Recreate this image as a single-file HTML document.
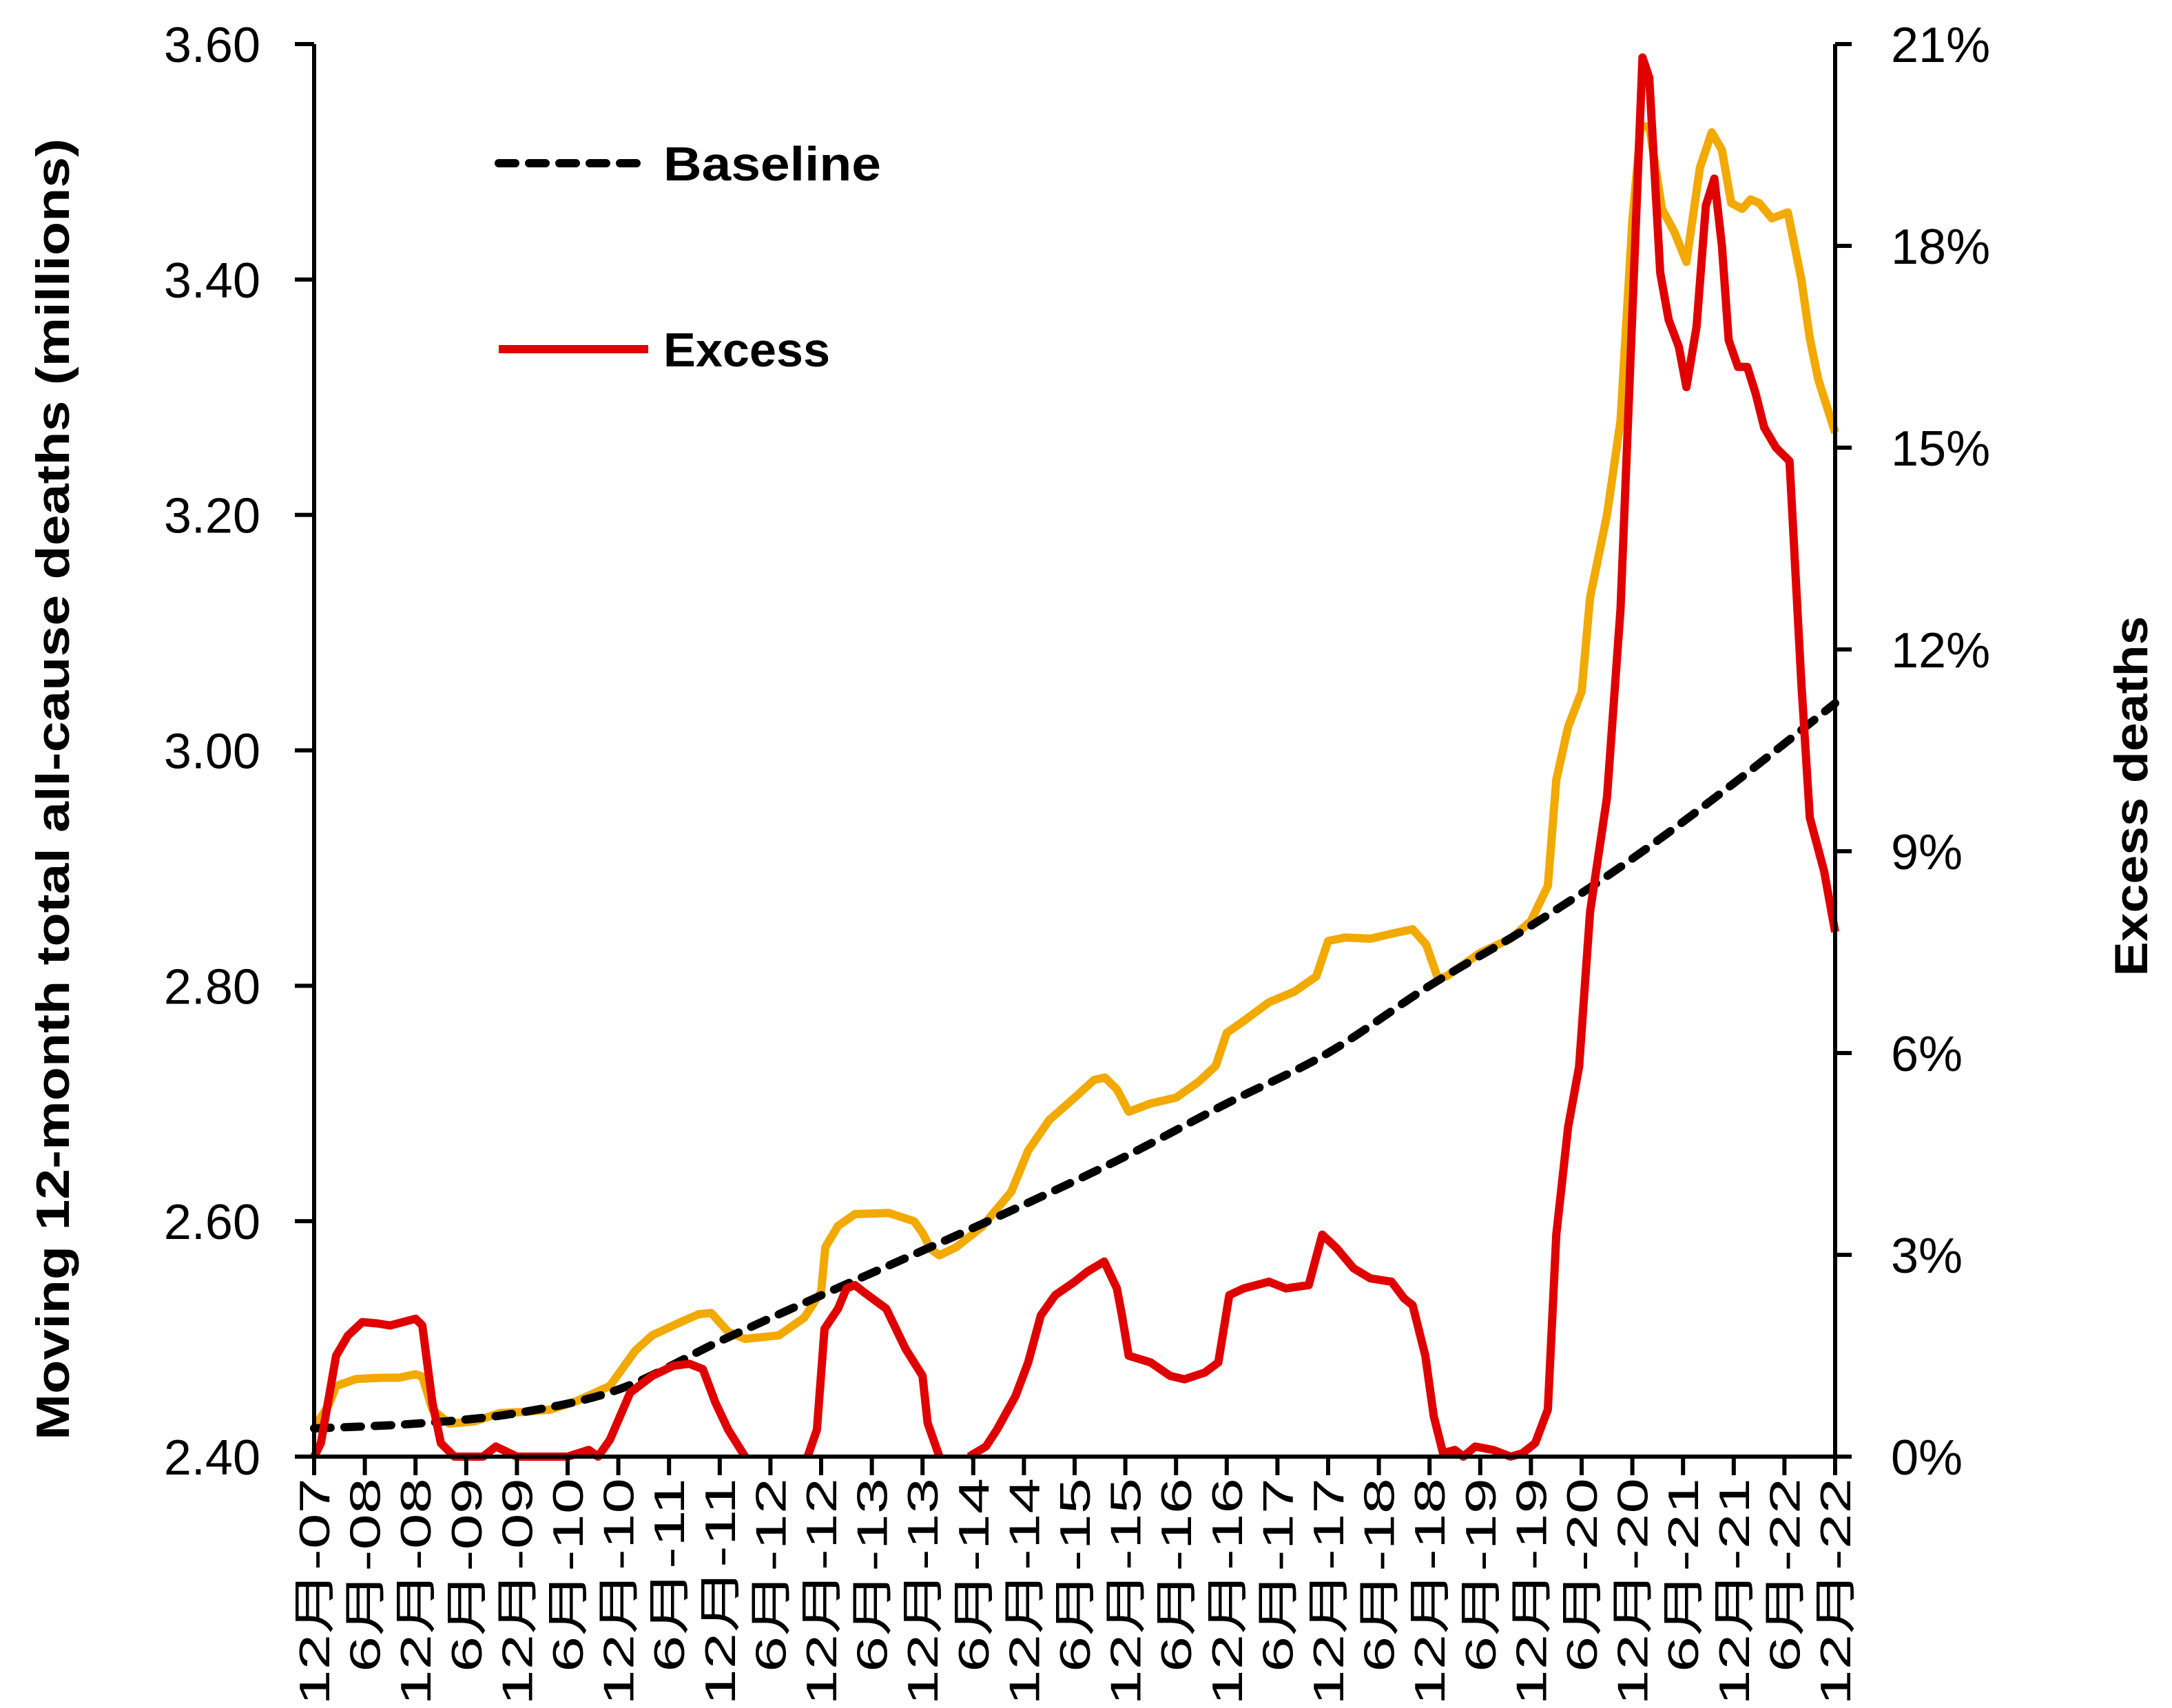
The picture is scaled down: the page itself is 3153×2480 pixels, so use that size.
<!DOCTYPE html>
<html><head><meta charset="utf-8"><style>
html,body{margin:0;padding:0;background:#fff}
svg{display:block}
text{font-family:"Liberation Sans","Noto Sans CJK SC",sans-serif;fill:#000}
</style></head><body>
<svg id="chart" width="3153" height="2480" viewBox="0 0 3153 2480" xmlns="http://www.w3.org/2000/svg">
<g id="grid"></g>
<g id="series"></g>
<g id="axes"></g>
<g id="legend">
  <line x1="724" y1="237" x2="941" y2="237" stroke="#000" stroke-width="12" stroke-dasharray="24,20" stroke-linecap="round"/>
  <text x="963" y="262" font-size="70" font-weight="bold" textLength="316" lengthAdjust="spacingAndGlyphs">Baseline</text>
  <line x1="724" y1="507" x2="941" y2="507" stroke="#e00000" stroke-width="12"/>
  <text x="963" y="532" font-size="70" font-weight="bold" textLength="242" lengthAdjust="spacingAndGlyphs">Excess</text>
</g>
<text transform="translate(100,1146) rotate(-90)" text-anchor="middle" font-size="68" font-weight="bold" textLength="1890" lengthAdjust="spacingAndGlyphs">Moving 12-month total all-cause deaths (millions)</text>
<text transform="translate(3117,1156) rotate(-90)" text-anchor="middle" font-size="68" font-weight="bold" textLength="523" lengthAdjust="spacingAndGlyphs">Excess deaths</text>
</svg>
<script>
const leftTicks = [2.40, 2.60, 2.80, 3.00, 3.20, 3.40, 3.60];
const leftTickLabels = ["2.40","2.60","2.80","3.00","3.20","3.40","3.60"];
const rightTicks = [0, 3, 6, 9, 12, 15, 18, 21];
const rightTickLabels = ["0%","3%","6%","9%","12%","15%","18%","21%"];
const xTickLabels = ["12月-07","6月-08","12月-08","6月-09","12月-09","6月-10","12月-10","6月-11","12月-11","6月-12","12月-12","6月-13","12月-13","6月-14","12月-14","6月-15","12月-15","6月-16","12月-16","6月-17","12月-17","6月-18","12月-18","6月-19","12月-19","6月-20","12月-20","6月-21","12月-21","6月-22","12月-22"];
const baselineMonths = [0,12,24,36,48,60,72,84,96,108,120,132,144,156,168,180];
const baselineValues = [2.424,2.428,2.437,2.457,2.498,2.537,2.575,2.614,2.655,2.700,2.743,2.800,2.851,2.908,2.972,3.040];
const actualMonths = [0,1.8,2.6,5,8,10,12,12.8,14,16,19,22,25,28,31,35,38,40,43,45.5,47,49,51,55,58,60,60.5,62,64,68,71,72,73,74,76,79,82.5,84.5,87,90,92.3,93.6,95,96.4,99,102,104.6,106.7,108,110,113,116,118.6,120,122,125,128,130,131.6,133,134,138,141.6,144,146,147,148.4,150,151,153,154.6,156,157,158,159.5,161,162.4,164,165.4,166.6,167.7,169,170,171,172.5,174.4,176,177,178,180];
const actualValues = [2.424,2.445,2.460,2.466,2.467,2.467,2.470,2.468,2.440,2.428,2.430,2.437,2.438,2.440,2.447,2.460,2.490,2.503,2.513,2.521,2.522,2.506,2.500,2.503,2.518,2.540,2.578,2.596,2.606,2.607,2.600,2.590,2.576,2.571,2.578,2.595,2.625,2.660,2.686,2.705,2.720,2.722,2.712,2.693,2.700,2.705,2.718,2.732,2.760,2.770,2.786,2.795,2.808,2.838,2.841,2.840,2.845,2.848,2.835,2.806,2.808,2.828,2.840,2.855,2.885,2.975,3.020,3.050,3.130,3.200,3.280,3.450,3.530,3.530,3.460,3.440,3.415,3.495,3.525,3.510,3.465,3.460,3.468,3.465,3.452,3.457,3.400,3.350,3.315,3.270];
const excessMonths = [0,0.8,2.6,4,5.7,7.5,9,12,12.8,14,15,16.6,20,21.5,24,28,30,32.5,33.6,35,37.4,40,42.5,44.4,46,47.5,49,51,null,58.4,59.5,60.4,62,63,64,65,67.7,70,72,72.6,74,null,77.5,79.5,80.8,83,84.5,86,87.7,90,91.5,93.5,95,95.6,96.4,99,101.3,103,105.4,107,108.3,110,113,115,117.7,119.3,121,123,125,127.5,129,130,131.5,132.5,133.6,135,136,137.4,139.5,141.6,143,144.5,146,147,148.4,149.7,151,153,154.6,156,157.2,158,159.3,160.3,161.5,162.4,163.6,164.7,165.7,166.6,167.4,168.5,169.6,170.6,171.6,173,174.6,176,177,178.7,180];
const excessValues = [0,0.2,1.5,1.8,2.0,1.98,1.95,2.05,1.95,0.8,0.2,0,0,0.15,0,0,0,0.1,0,0.25,0.95,1.2,1.35,1.38,1.3,0.8,0.4,0,null,0,0.4,1.9,2.2,2.5,2.55,2.45,2.2,1.6,1.2,0.5,0,null,0,0.15,0.4,0.9,1.4,2.1,2.4,2.6,2.75,2.9,2.5,2.1,1.5,1.4,1.2,1.15,1.25,1.4,2.4,2.5,2.6,2.5,2.55,3.3,3.1,2.8,2.65,2.6,2.35,2.25,1.5,0.6,0.05,0.1,0,0.15,0.1,0,0.05,0.2,0.7,3.3,4.9,5.8,8.1,9.8,12.6,17.0,20.8,20.5,17.6,16.9,16.5,15.9,16.8,18.6,19.0,18.0,16.6,16.2,16.2,15.8,15.3,15.0,14.8,11.5,9.5,8.7,7.8];

const NS = "http://www.w3.org/2000/svg";
const X0 = 456, X1 = 2664, Y0 = 2115, Y1 = 64, NM = 180;
function xScale(m){ return X0 + (X1 - X0) * m / NM; }
function yLeft(v){ return Y0 - (v - 2.4) / 1.2 * (Y0 - Y1); }
function yRight(p){ return Y0 - p / 21 * (Y0 - Y1); }
function mk(tag, attrs, parent){
  const el = document.createElementNS(NS, tag);
  for (const k in attrs) el.setAttribute(k, attrs[k]);
  parent.appendChild(el);
  return el;
}
const axes = document.getElementById('axes');
const series = document.getElementById('series');

function baselinePath(){
  const pts = baselineMonths.map((m,i)=>[xScale(m), yLeft(baselineValues[i])]);
  let d = `M${pts[0][0]},${pts[0][1]}`;
  for (let i=0;i<pts.length-1;i++){
    const p0=pts[Math.max(0,i-1)], p1=pts[i], p2=pts[i+1], p3=pts[Math.min(pts.length-1,i+2)];
    const c1=[p1[0]+(p2[0]-p0[0])/6, p1[1]+(p2[1]-p0[1])/6];
    const c2=[p2[0]-(p3[0]-p1[0])/6, p2[1]-(p3[1]-p1[1])/6];
    d += ` C${c1[0]},${c1[1]} ${c2[0]},${c2[1]} ${p2[0]},${p2[1]}`;
  }
  return d;
}

{
  const d = actualMonths.map((m,i)=>(i?'L':'M')+xScale(m)+','+yLeft(actualValues[i])).join(' ');
  const p = mk('path', {d:d, fill:'none', stroke:'#f2a900', 'stroke-width':12, 'stroke-linejoin':'round'}, series);
  
  
}
{
  const p = mk('path', {d:baselinePath(), fill:'none', stroke:'#000', 'stroke-width':12, 'stroke-dasharray':'24,20', 'stroke-linecap':'round'}, series);
  
  
}
{
  let d = '', pen = false;
  excessMonths.forEach((m,i)=>{
    if (m === null || excessValues[i] === null){ pen = false; return; }
    d += (pen?'L':'M') + xScale(m) + ',' + yRight(excessValues[i]) + ' ';
    pen = true;
  });
  const p = mk('path', {d:d, fill:'none', stroke:'#e00000', 'stroke-width':12, 'stroke-linejoin':'round'}, series);
  
  
}

{
  const a = mk('line', {x1:X0, y1:Y1, x2:X0, y2:Y0, stroke:'#000', 'stroke-width':6}, axes);
  
  
  const b = mk('line', {x1:X1, y1:Y1, x2:X1, y2:Y0, stroke:'#000', 'stroke-width':6}, axes);
  
  
  const c = mk('line', {x1:X0-3, y1:Y0, x2:X1+3, y2:Y0, stroke:'#000', 'stroke-width':6}, axes);
  
  
}
leftTicks.forEach((v,i)=>{
  const y = yLeft(v);
  const t = mk('line', {x1:428, y1:y, x2:X0, y2:y, stroke:'#000', 'stroke-width':6}, axes);
  
  
  const l = mk('text', {x:378, y:y+26, 'text-anchor':'end', 'font-size':72}, axes);
  l.textContent = leftTickLabels[i];
  
  
});
rightTicks.forEach((v,i)=>{
  const y = yRight(v);
  const t = mk('line', {x1:X1, y1:y, x2:2688, y2:y, stroke:'#000', 'stroke-width':6}, axes);
  
  
  const l = mk('text', {x:2745, y:y+26, 'text-anchor':'start', 'font-size':72}, axes);
  l.textContent = rightTickLabels[i];
  
  
});
xTickLabels.forEach((lab,i)=>{
  const x = xScale(i*6);
  const t = mk('line', {x1:x, y1:Y0, x2:x, y2:2142, stroke:'#000', 'stroke-width':6}, axes);
  
  
  const len = lab.startsWith('12') ? 330 : 282;
  const l = mk('text', {transform:`translate(${x+22},2146) rotate(-90)`, 'text-anchor':'end', 'font-size':62, textLength:len, lengthAdjust:'spacingAndGlyphs'}, axes);
  l.textContent = lab;
  
  
});
</script>
</body></html>
